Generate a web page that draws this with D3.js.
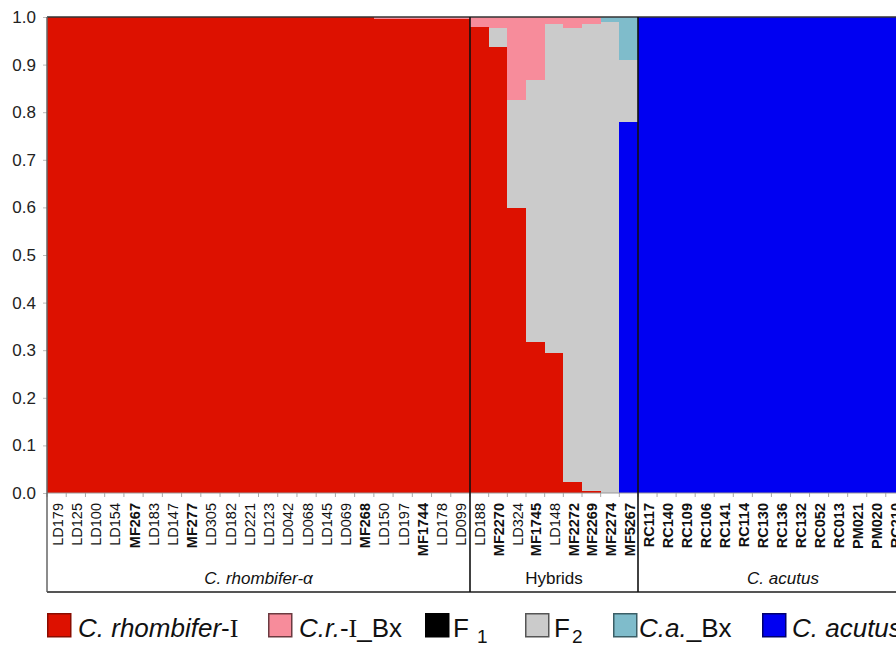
<!DOCTYPE html>
<html><head><meta charset="utf-8">
<script src="https://cdn.jsdelivr.net/npm/d3@7"></script>
<style>body{margin:0;background:#fff;overflow:hidden} svg{display:block;font-family:Arial,"Liberation Sans",sans-serif}</style>
</head><body><svg id="c" width="896" height="647"></svg>
<script>
// ---- data ----
const rhombiferSamples = ["LD179","LD125","LD100","LD154","MF267","LD183","LD147","MF277","LD305","LD182","LD221","LD123","LD042","LD068","LD145","LD069","MF268","LD150","LD197","MF1744","LD178","LD099"];
const hybridSamples = ["LD188","MF2270","LD324","MF1745","LD148","MF2272","MF2269","MF2274","MF5267"];
const acutusSamples = ["RC117","RC140","RC109","RC106","RC141","RC114","RC130","RC136","RC132","RC052","RC013","PM021","PM020","RC210"];
const groupNames = ["C. rhombifer-α","Hybrids","C. acutus"];
const clusterKeys = ["acutus","rhombiferI","F1","F2","crIBx","caBx"];

// cluster membership per sample (22 rhombifer, 9 hybrids, 14 acutus)
const rhombiferI = [1,1,1,1,1,1,1,1,1,1,1,1,1,1,1,1,1,0.995,0.995,0.995,0.995,0.995,
  0.979,0.937,0.599,0.318,0.294,0.023,0.005,0,0,
  0,0,0,0,0,0,0,0,0,0,0,0,0,0];
const crIBx = [0,0,0,0,0,0,0,0,0,0,0,0,0,0,0,0,0,0.005,0.005,0.005,0.005,0.005,
  0.021,0.023,0.174,0.132,0.015,0.023,0.015,0,0,
  0,0,0,0,0,0,0,0,0,0,0,0,0,0];
const F1 = [0,0,0,0,0,0,0,0,0,0,0,0,0,0,0,0,0,0,0,0,0,0,
  0,0,0,0,0,0,0,0,0,
  0,0,0,0,0,0,0,0,0,0,0,0,0,0];
const F2 = [0,0,0,0,0,0,0,0,0,0,0,0,0,0,0,0,0,0,0,0,0,0,
  0,0.040,0.227,0.550,0.691,0.954,0.980,0.990,0.130,
  0,0,0,0,0,0,0,0,0,0,0,0,0,0];
const caBx = [0,0,0,0,0,0,0,0,0,0,0,0,0,0,0,0,0,0,0,0,0,0,
  0,0,0,0,0,0,0,0.010,0.090,
  0,0,0,0,0,0,0,0,0,0,0,0,0,0];
const acutus = [0,0,0,0,0,0,0,0,0,0,0,0,0,0,0,0,0,0,0,0,0,0,
  0,0,0,0,0,0,0,0,0.780,
  1,1,1,1,1,1,1,1,1,1,1,1,1,1];
const yTicks = [0,0.1,0.2,0.3,0.4,0.5,0.6,0.7,0.8,0.9,1.0];

// ---- layout ----
const colors = {rhombiferI:"#dd1100", crIBx:"#f78c9b", F1:"#000000", F2:"#cbcbcb", caBx:"#7fbccb", acutus:"#0000f2"};
const borders = {rhombiferI:"#8a0c00", crIBx:"#6b3a40", F1:"#000000", F2:"#555555", caBx:"#3b5e66", acutus:"#00006e"};
const mTop = 17, mBottom = 493, boxBottom = 592, plotRight = 928;
const groupBounds = [[47, 470], [470, 638], [638, 638 + 19.06*14]];

const svg = d3.select("#c");
const groupSamples = [rhombiferSamples, hybridSamples, acutusSamples];
const samples = rhombiferSamples.concat(hybridSamples, acutusSamples);
const series = {rhombiferI, crIBx, F1, F2, caBx, acutus};
const table = samples.map((s,i)=>{ const o={sample:s}; clusterKeys.forEach(k=>o[k]=series[k][i]); return o; });

// one band scale per group
const bandScales = groupSamples.map((gs,i)=> d3.scaleBand().domain(gs).range(groupBounds[i]).padding(0));
const scaleOf = {};
groupSamples.forEach((gs,i)=> gs.forEach(s=> scaleOf[s] = bandScales[i]));
const x = s => scaleOf[s](s);
const bw = s => scaleOf[s].bandwidth();
const y = d3.scaleLinear().domain([0,1]).range([mBottom, mTop]);
const snap = v => Math.round(v + 1e-6);

const stacked = d3.stack().keys(clusterKeys)(table);
const g = svg.append("g").attr("shape-rendering","crispEdges");
g.selectAll("g.layer").data(stacked).join("g").attr("class","layer")
  .attr("fill", d=>colors[d.key])
  .selectAll("rect").data(d=>d).join("rect")
  .attr("x", d=>snap(x(d.data.sample)))
  .attr("width", d=>snap(x(d.data.sample)+bw(d.data.sample)) - snap(x(d.data.sample)))
  .attr("y", d=>y(d[1]))
  .attr("height", d=>Math.max(0, y(d[0]) - y(d[1])));

// y axis
const yAxis = d3.axisLeft(y).tickValues(yTicks).tickFormat(d3.format(".1f")).tickSize(4).tickPadding(7);
const ya = svg.append("g").attr("transform",`translate(${groupBounds[0][0]},0)`).call(yAxis);
ya.select(".domain").remove();
ya.selectAll("line").attr("stroke","#bbb");
ya.selectAll("text").attr("font-size",17).attr("fill","#222").attr("font-family","Arial, 'Liberation Sans', sans-serif");

// x ticks at bar boundaries
svg.append("g").selectAll("line").data(samples).join("line")
  .attr("x1", d=>x(d)).attr("x2", d=>x(d))
  .attr("y1", mBottom).attr("y2", mBottom+4).attr("stroke","#aaa");

// frame
const mLeft = groupBounds[0][0];
svg.append("line").attr("x1",mLeft).attr("x2",plotRight).attr("y1",mTop).attr("y2",mTop).attr("stroke","#333").attr("stroke-width",1.5);
svg.append("line").attr("x1",mLeft).attr("x2",plotRight).attr("y1",mBottom).attr("y2",mBottom).attr("stroke","#999").attr("stroke-width",1);
svg.append("line").attr("x1",mLeft).attr("x2",mLeft).attr("y1",mTop).attr("y2",boxBottom).attr("stroke","#666").attr("stroke-width",1.5);
svg.append("line").attr("x1",mLeft).attr("x2",plotRight).attr("y1",boxBottom).attr("y2",boxBottom).attr("stroke","#555").attr("stroke-width",2);

// group dividers
svg.append("g").selectAll("line").data([hybridSamples[0], acutusSamples[0]]).join("line")
  .attr("x1", d=>snap(x(d))).attr("x2", d=>snap(x(d))).attr("y1", mTop).attr("y2", boxBottom)
  .attr("stroke","#111").attr("stroke-width",1.6);

// sample labels
svg.append("g").selectAll("text").data(samples).join("text")
  .attr("transform", d=>`translate(${x(d)+bw(d)/2+6},503) rotate(-90)`)
  .attr("text-anchor","end")
  .attr("font-size",14.5)
  .attr("font-weight", d=> /^LD/.test(d) ? "normal" : "bold")
  .attr("fill","#111")
  .text(d=>d);

// group labels
const groupExtents = [groupBounds[0], groupBounds[1], [groupBounds[2][0], plotRight]];
svg.append("g").selectAll("text").data(groupNames).join("text")
  .attr("x",(d,i)=>(groupExtents[i][0]+groupExtents[i][1])/2)
  .attr("y",584)
  .attr("text-anchor","middle")
  .attr("font-size",17)
  .attr("font-style",(d,i)=> i===1 ? "normal" : "italic")
  .attr("fill","#111")
  .text(d=>d);

// legend
const legendItems = [
  {key:"rhombiferI", sx:47, tx:78, parts:[["C. rhombifer","italic"],["-","normal"],["I","serif"]]},
  {key:"crIBx", sx:268, tx:299, parts:[["C.r.","italic"],["-","normal"],["I","serif"],["_Bx","normal"]]},
  {key:"F1", sx:425, tx:453, parts:[["F","normal"],["1","sub"]]},
  {key:"F2", sx:525, tx:554, parts:[["F","normal"],["2","sub"]]},
  {key:"caBx", sx:613, tx:639, parts:[["C.a.","italic"],["_Bx","normal"]]},
  {key:"acutus", sx:762, tx:792, parts:[["C. acutus","italic"]]}
];
const lg = svg.append("g");
legendItems.forEach(it=>{
  lg.append("rect").attr("x",it.sx+0.75).attr("y",613.75).attr("width",23).attr("height",23)
    .attr("fill",colors[it.key]).attr("stroke",borders[it.key]).attr("stroke-width",1.5);
  const t = lg.append("text").attr("x",it.tx).attr("y",637).attr("font-size",26).attr("fill","#111");
  it.parts.forEach(p=>{
    const ts = t.append("tspan").text(p[0]);
    if(p[1]==="italic") ts.attr("font-style","italic");
    if(p[1]==="serif") ts.attr("font-family","'Liberation Serif','DejaVu Serif',serif");
    if(p[1]==="sub") ts.attr("font-size",19).attr("dy",6).attr("dx",p[0]==="1" ? 8 : 2);
  });
});
</script></body></html>
